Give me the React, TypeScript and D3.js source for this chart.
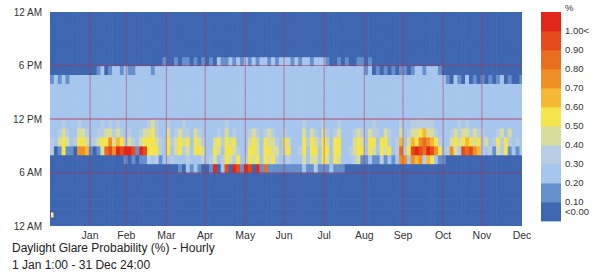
import React from 'react';
import * as d3 from 'd3';

// month labels sit on the month-end gridlines
const months = ['Jan', 'Feb', 'Mar', 'Apr', 'May', 'Jun', 'Jul', 'Aug', 'Sep', 'Oct', 'Nov', 'Dec'];
const monthEnds = [31, 59, 90, 120, 151, 181, 212, 243, 273, 304, 334, 365];

const hourTicks = [0, 6, 12, 18, 24];
const hourLabels = ['12 AM', '6 AM', '12 PM', '6 PM', '12 AM'];

const legendBreaks = [0.1, 0.2, 0.3, 0.4, 0.5, 0.6, 0.7, 0.8, 0.9, 1.0];
const legendLabels = ['0.10', '0.20', '0.30', '0.40', '0.50', '0.60', '0.70', '0.80', '0.90', '1.00<'];
const legendColors = [
  '#3f66b0', '#6690cb', '#a6c6ee', '#b8cde2', '#d9dd9c', '#f4e54c',
  '#f6b834', '#f08f25', '#eb6d1f', '#e64b1c', '#e2261a',
];

// DGP class per 3-day column: 0 = <0.10, 1 = 0.10-0.20 ... 9 = 0.90-1.00, a = 1.00<
// one segment per month (Sep and Dec take 11 columns)
const h06 = ['0000000000', '0000000000', '0000000000', '0001021210', '01a0290a91', 'a90a181111',
  '1111121131', '1121110000', '00000000000', '0000000000', '0000000000', '00000000000'].join('');
const h07 = ['0000000000', '0000000001', '0101132312', '2322232223', '2342354352', '3545254532',
  '2322242442', '5425422234', '11211312127', '7276736521', '1000000000', '00000000000'].join('');
const h08 = ['3015110776', '1014897a9a', 'a91a955532', '5245342554', '2254255432', '2554255442',
  '4522352552', '5525522345', '52542545238', '359a98a975', '2374398976', '32314351212'].join('');
const h09 = ['3245423554', '2345574653', '4324555432', '5345452543', '2245354522', '2454254432',
  '5422253543', '5425522245', '42552553236', '2465787653', '2245456545', '34235353232'].join('');
const h10 = ['2234322443', '2233443432', '3223445322', '4234332432', '2223242322', '2343234322',
  '3222242432', '4323422234', '32433243224', '2344564432', '2234344343', '32223424222'].join('');
const h11 = ['2223222322', '2223232322', '2222234322', '3222322222', '2222232222', '2222222222',
  '2222232222', '3222322222', '22232222223', '2233333322', '2222323222', '22222222222'].join('');
const h16 = ['1212122222', '2222222222', '2222222222', '2222222222', '2222222222', '2222222222',
  '2222222222', '2222222222', '22222222222', '2222222222', '2102102010', '10101201001'].join('');
const h17 = ['0000000000', '0012012212', '1122221222', '2222222222', '2222222222', '2222222222',
  '2222222222', '2222222222', '21201010101', '1012212221', '0000000000', '00000000000'].join('');
const h18 = ['0000000000', '0000000000', '0000000001', '0010110101', '0102112121', '2121221212',
  '2212122122', '2100101001', '10100000000', '0000000000', '0000000000', '00000000000'].join('');

// rows that stay the same all year
const darkHours = [0, 1, 2, 3, 4, 5, 19, 20, 21, 22, 23];
const clearHours = [12, 13, 14, 15];

const variableRows = new Map<number, string>([
  [6, h06], [7, h07], [8, h08], [9, h09], [10, h10], [11, h11], [16, h16], [17, h17], [18, h18],
]);

const DAYS_PER_COL = 3;
const N_COLS = h08.length;

const W = 601;
const H = 275;
const FONT = "'Liberation Sans', Arial, sans-serif";

export default function App() {
  const margin = { top: 12, right: 79, bottom: 49, left: 50 };
  const x = d3.scaleLinear().domain([0, 365]).range([margin.left, W - margin.right]);
  const y = d3.scaleLinear().domain([0, 24]).range([H - margin.bottom, margin.top]);
  const color = d3.scaleThreshold<number, string>().domain(legendBreaks).range(legendColors);

  const classOf = (h: number, i: number) => {
    if (darkHours.includes(h)) return 0;
    if (clearHours.includes(h)) return 2;
    return parseInt(variableRows.get(h)![i], 11);
  };

  const cells: React.ReactNode[] = [];
  for (let h = 0; h < 24; h++) {
    for (let i = 0; i < N_COLS; i++) {
      const d0 = i * DAYS_PER_COL;
      const d1 = Math.min(d0 + DAYS_PER_COL, 365);
      const v = classOf(h, i) * 0.1 + 0.05;
      const x0 = x(d0);
      const x1 = x(d1);
      cells.push(
        <rect
          key={`${h}-${i}`}
          x={x0}
          y={y(h + 1)}
          width={x1 - x0 + (d1 < 365 ? 0.6 : 0)}
          height={y(h) - y(h + 1) + (h > 0 ? 0.6 : 0)}
          fill={color(v)}
        />
      );
    }
  }

  // legend
  const legX = 541;
  const legW = 20;
  const yL = d3.scaleLinear().domain([0, 1.1]).range([221, 12]);

  return (
    <svg width={W} height={H} style={{ position: 'absolute', left: 0, top: 0, background: '#fff' }} fontFamily={FONT}>
      <g>{cells}</g>

      {monthEnds.slice(0, -1).map(d => (
        <line key={d} x1={x(d)} x2={x(d)} y1={y(24)} y2={y(0)} stroke="#b03048" strokeOpacity={0.5} strokeWidth={1} />
      ))}
      {[6, 12, 18].map(h => (
        <line key={h} x1={x(0)} x2={x(365)} y1={y(h)} y2={y(h)} stroke="#b8304c" strokeOpacity={h === 12 ? 0.8 : 0.55} strokeWidth={1} />
      ))}

      <rect x={x(0) + 0.5} y={212} width={3.5} height={6} fill="#e4e4e4" stroke="#555" strokeWidth={0.8} />

      {hourTicks.map((h, i) => (
        <text key={i} x={42} y={y(h)} dy="0.35em" textAnchor="end" fontSize={10} fill="#333">
          {hourLabels[i]}
        </text>
      ))}
      {months.map((m, i) => (
        <text key={m} x={x(monthEnds[i])} y={239} textAnchor="middle" fontSize={10.5} fill="#333">
          {m}
        </text>
      ))}

      <text x={12} y={252} fontSize={12} fill="#222">Daylight Glare Probability (%) - Hourly</text>
      <text x={12} y={269} fontSize={12} fill="#222">1 Jan 1:00 - 31 Dec 24:00</text>

      {legendColors.map((c, i) => (
        <rect key={c} x={legX} y={yL((i + 1) * 0.1)} width={legW} height={yL(i * 0.1) - yL((i + 1) * 0.1) + 0.4} fill={c} />
      ))}
      <text x={565} y={8} dy="0.35em" fontSize={9.5} fill="#333">%</text>
      {legendBreaks.map((b, i) => (
        <text key={b} x={565} y={yL(b)} dy="0.35em" fontSize={9.5} fill="#333">
          {legendLabels[i]}
        </text>
      ))}
      <text x={565} y={yL(0.05)} dy="0.35em" fontSize={9.5} fill="#333">{'<0.00'}</text>
    </svg>
  );
}
